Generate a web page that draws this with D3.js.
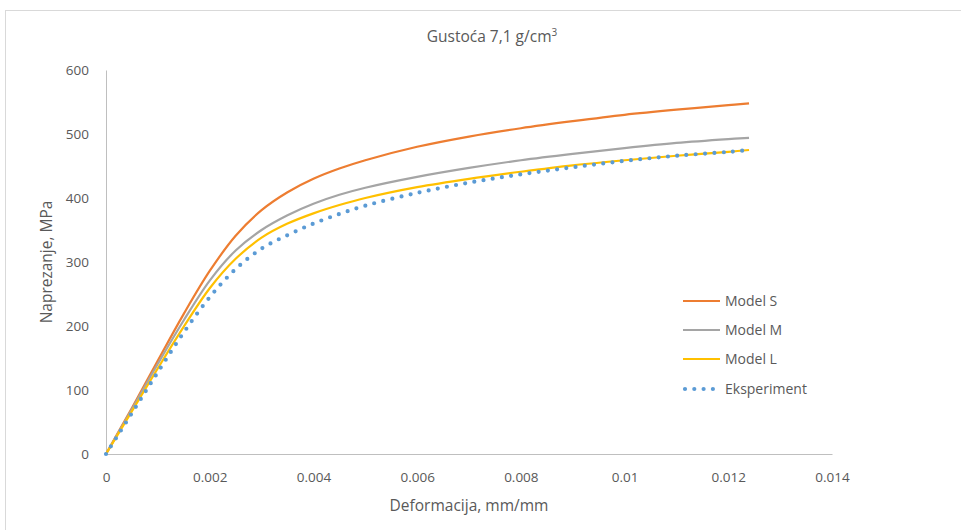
<!DOCTYPE html>
<html>
<head>
<meta charset="utf-8">
<script src="https://cdn.jsdelivr.net/npm/d3@7"></script>
<style>
  html, body { margin: 0; padding: 0; background: #fff; }
  svg { display: block; }
  text { font-family: "Open Sans", Lato, sans-serif; fill: #595959; }
</style>
</head>
<body>
<svg id="chart" width="961" height="530"></svg>
<script>
// ---- data ----
const strain = [0, 0.0005, 0.001, 0.0015, 0.002, 0.0025, 0.003, 0.0035, 0.004, 0.0045, 0.005, 0.006, 0.007, 0.008, 0.009, 0.010, 0.011, 0.012, 0.0124];
const modelS = [0, 72, 146, 219, 286, 341, 381, 409, 430, 446, 459, 480, 496, 509, 520, 530, 538, 545, 548];
const modelM = [0, 70, 141, 209, 271, 318, 350, 373, 391, 405, 416, 433, 447, 459, 469, 478, 486, 492, 494];
const modelL = [0, 67, 134, 199, 259, 305, 338, 360, 376, 389, 400, 417, 430, 441, 451, 459, 466, 472, 475];
const experiment = [0, 64, 128, 190, 245, 289, 321, 342, 360, 375, 388, 408, 424, 437, 448, 458, 466, 472, 475];
const seriesNames = ["Model S", "Model M", "Model L", "Eksperiment"];
const seriesColors = ["#ED7D31", "#A5A5A5", "#FFC000", "#5B9BD5"];
const xTicks = [0, 0.002, 0.004, 0.006, 0.008, 0.01, 0.012, 0.014];
const yTicks = [0, 100, 200, 300, 400, 500, 600];
const title = "Gustoća 7,1 g/cm";
const xTitle = "Deformacija, mm/mm";
const yTitle = "Naprezanje, MPa";

// ---- layout ----
const svg = d3.select("#chart");
const plot = { left: 106, right: 832, top: 70, bottom: 454 };

svg.append("rect").attr("x", 5.5).attr("y", 10.5).attr("width", 1000).attr("height", 600)
  .attr("fill", "#fff").attr("stroke", "#d9d9d9").attr("stroke-width", 1);

const x = d3.scaleLinear().domain([0, 0.014]).range([plot.left, plot.right]);
const y = d3.scaleLinear().domain([0, 600]).range([plot.bottom, plot.top]);

// axes
const xAxis = d3.axisBottom(x).tickValues(xTicks).tickSize(0).tickPadding(18)
  .tickFormat(d => d === 0 ? "0" : String(+d.toFixed(3)));
const gx = svg.append("g").attr("transform", `translate(0,${plot.bottom})`).call(xAxis);
gx.select(".domain").attr("stroke", "#bfbfbf").attr("stroke-width", 1);
gx.selectAll("text").style("font-size", "13.5px").attr("fill", "#595959");

const yAxis = d3.axisLeft(y).tickValues(yTicks).tickSize(0).tickPadding(17);
const gy = svg.append("g").attr("transform", `translate(${plot.left},0)`).call(yAxis);
gy.select(".domain").attr("stroke", "#bfbfbf").attr("stroke-width", 1);
gy.selectAll("text").style("font-size", "13.5px").attr("fill", "#595959");

// titles
const t = svg.append("text").attr("x", 492).attr("y", 42).attr("text-anchor", "middle")
  .style("font-size", "15.5px");
t.append("tspan").text(title);
t.append("tspan").attr("dy", -6).style("font-size", "10px").text("3");

svg.append("text").attr("x", (plot.left + plot.right) / 2).attr("y", 511)
  .attr("text-anchor", "middle").style("font-size", "15.5px").text(xTitle);
svg.append("text").attr("transform", `translate(52,${(plot.top + plot.bottom) / 2}) rotate(-90)`)
  .attr("text-anchor", "middle").style("font-size", "15.5px").text(yTitle);

// lines
const allSeries = [modelS, modelM, modelL, experiment];
const line = d3.line().x((d, i) => x(strain[i])).y(d => y(d)).curve(d3.curveCatmullRom.alpha(0.5));
allSeries.forEach((vals, k) => {
  const p = svg.append("path").datum(vals).attr("d", line).attr("fill", "none")
    .attr("stroke", seriesColors[k]);
  if (k === 3) {
    p.attr("stroke-width", 4.2).attr("stroke-dasharray", "0 9.3").attr("stroke-linecap", "round");
  } else {
    p.attr("stroke-width", 2.2);
  }
});

// legend
const legendY = [301, 330, 359, 389];
seriesNames.forEach((name, k) => {
  const g = svg.append("g").attr("transform", `translate(682,${legendY[k]})`);
  const l = g.append("line").attr("x1", 1).attr("x2", 38).attr("y1", 0).attr("y2", 0)
    .attr("stroke", seriesColors[k]);
  if (k === 3) {
    l.attr("stroke-width", 4.2).attr("stroke-dasharray", "0 9.3").attr("stroke-linecap", "round")
      .attr("x1", 3).attr("x2", 33);
  } else {
    l.attr("stroke-width", 2.2);
  }
  g.append("text").attr("x", 43).attr("y", 0).attr("dy", "0.35em")
    .style("font-size", "14px").text(name);
});
</script>
</body>
</html>
